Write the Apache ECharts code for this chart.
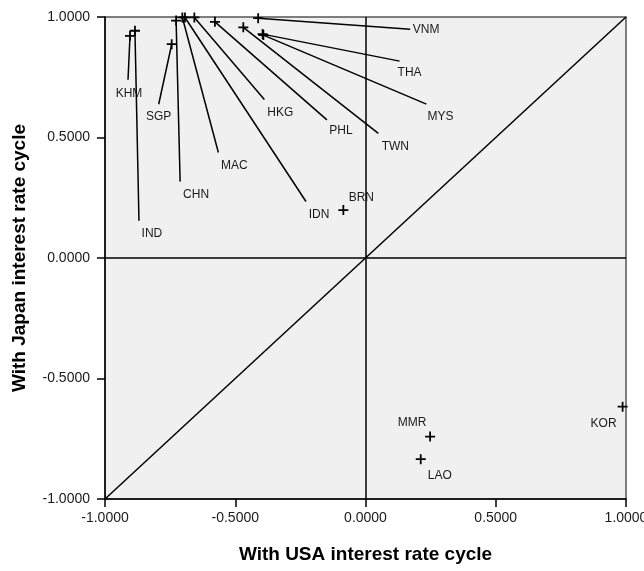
<!DOCTYPE html>
<html>
<head>
<meta charset="utf-8">
<script src="https://cdn.jsdelivr.net/npm/echarts@6/dist/echarts.min.js"></script>
<style>
  html, body { margin: 0; padding: 0; background: #ffffff; }
  #chart { width: 644px; height: 571px; }
</style>
</head>
<body>
<div id="chart"></div>
<script>
// Correlation of each economy's interest rate cycle with the USA (x) and Japan (y) cycles
const countries = ['KHM', 'IND', 'SGP', 'CHN', 'MAC', 'IDN', 'HKG', 'PHL', 'TWN', 'VNM', 'THA', 'MYS', 'BRN', 'MMR', 'LAO', 'KOR'];
const usaCorr   = [-0.904, -0.885, -0.744, -0.727, -0.703, -0.693, -0.657, -0.578, -0.469, -0.412, -0.395, -0.392, -0.085, 0.248, 0.212, 0.987];
const japanCorr = [0.922, 0.943, 0.887, 0.985, 0.998, 0.998, 0.998, 0.980, 0.957, 0.995, 0.929, 0.925, 0.199, -0.741, -0.835, -0.617];

const axisMin = -1;
const axisMax = 1;
const tickStep = 0.5;

// Label placement in pixels relative to each marker: text centre and leader-line end
const labelPlacement = {
  KHM: { text: [-1, 58],   line: [-2, 44] },
  IND: { text: [17, 203],  line: [4, 190] },
  SGP: { text: [-13, 72],  line: [-13, 60] },
  CHN: { text: [20, 174],  line: [4, 161] },
  MAC: { text: [52, 148],  line: [36, 135] },
  IDN: { text: [134, 197], line: [121, 184] },
  HKG: { text: [86, 95],   line: [70, 82] },
  PHL: { text: [126, 109], line: [112, 98] },
  TWN: { text: [152, 119], line: [135, 106] },
  VNM: { text: [168, 11],  line: [152, 11] },
  THA: { text: [147, 39],  line: [137, 27] },
  MYS: { text: [177, 82],  line: [163, 69] },
  BRN: { text: [18, -12],  line: null },
  MMR: { text: [-18, -14], line: null },
  LAO: { text: [19, 16],   line: null },
  KOR: { text: [-19, 17],  line: null }
};

const points = countries.map((c, i) => [usaCorr[i], japanCorr[i]]);

const FONT = '"Liberation Sans", Arial, Helvetica, sans-serif';
const crossSymbol = 'path://M3.7,0H5.3V3.7H9V5.3H5.3V9H3.7V5.3H0V3.7H3.7Z';

const chart = echarts.init(document.getElementById('chart'), null, { renderer: 'canvas' });

const axisCommon = {
  type: 'value',
  min: axisMin,
  max: axisMax,
  interval: tickStep,
  splitLine: { show: false },
  axisLine: { show: true, onZero: false, lineStyle: { color: '#000', width: 1.5 } },
  axisTick: { show: true, inside: false, length: 8, lineStyle: { color: '#000', width: 1.5 } },
  axisLabel: {
    fontFamily: FONT, fontSize: 14, color: '#1a1a1a',
    formatter: v => v.toFixed(4)
  },
  nameLocation: 'middle',
  nameMoveOverlap: false,
  nameTextStyle: { fontFamily: FONT, fontSize: 19, fontWeight: 'bold', color: '#000' }
};

chart.setOption({
  animation: false,
  backgroundColor: '#ffffff',
  grid: {
    left: 105, right: 18, top: 17, bottom: 72,
    containLabel: false,
    outerBoundsMode: 'none',
    show: true,
    backgroundColor: '#f0f0f0',
    borderColor: '#555',
    borderWidth: 1.5
  },
  xAxis: Object.assign({}, axisCommon, {
    name: 'With USA interest rate cycle',
    nameGap: 46,
    axisLabel: Object.assign({}, axisCommon.axisLabel, { margin: 12 })
  }),
  yAxis: Object.assign({}, axisCommon, {
    name: 'With Japan interest rate cycle',
    nameGap: 76,
    axisLabel: Object.assign({}, axisCommon.axisLabel, { margin: 15 })
  }),
  series: [
    {
      // reference lines: zero lines and the y = x diagonal
      type: 'scatter',
      data: [],
      silent: true,
      markLine: {
        silent: true,
        symbol: 'none',
        animation: false,
        label: { show: false },
        lineStyle: { color: '#000', width: 1.5, type: 'solid' },
        data: [
          { xAxis: 0 },
          { yAxis: 0 },
          [{ coord: [axisMin, axisMin] }, { coord: [axisMax, axisMax] }]
        ]
      }
    },
    {
      // country labels with leader lines
      type: 'custom',
      silent: true,
      data: points,
      z: 3,
      renderItem: (params, api) => {
        const p = api.coord([api.value(0), api.value(1)]);
        const name = countries[params.dataIndex];
        const place = labelPlacement[name];
        const children = [];
        if (place.line) {
          children.push({
            type: 'line',
            shape: { x1: p[0], y1: p[1], x2: p[0] + place.line[0], y2: p[1] + place.line[1] },
            style: { stroke: '#000', lineWidth: 1.5 }
          });
        }
        children.push({
          type: 'text',
          x: p[0] + place.text[0],
          y: p[1] + place.text[1],
          style: {
            text: name,
            align: 'center',
            verticalAlign: 'middle',
            font: '12px ' + FONT,
            fill: '#1a1a1a'
          }
        });
        return { type: 'group', children };
      }
    },
    {
      // markers
      type: 'scatter',
      data: points,
      symbol: crossSymbol,
      symbolSize: 10,
      z: 4,
      itemStyle: { color: '#000', opacity: 1 }
    }
  ]
});
</script>
</body>
</html>
